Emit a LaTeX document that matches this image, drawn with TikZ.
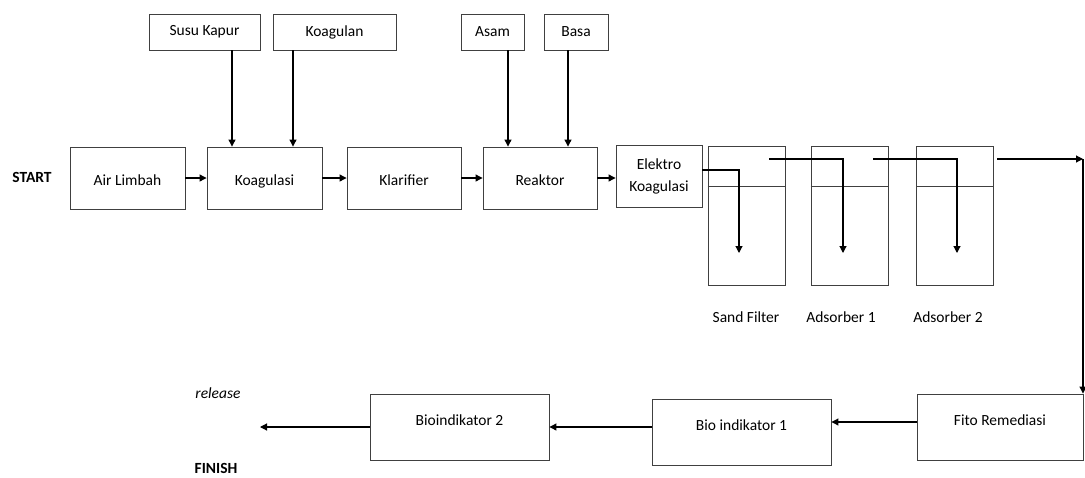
\documentclass[tikz,border=0pt]{standalone}
\usepackage{fontspec}
\setmainfont{Carlito}
\usetikzlibrary{arrows.meta,positioning}

\tikzset{
  box/.style={draw=black!75, line width=0.9pt, inner sep=0pt, align=center},
  midbox/.style={box, text height=17pt, text depth=2pt},
  lowbox/.style={box, text height=11pt, text depth=15pt},
  arr/.style={line width=1.1pt, -{Triangle[length=7pt,width=7pt]}},
  line/.style={line width=1.1pt}
}

\begin{document}
\begin{tikzpicture}[x=1pt, y=-1pt, every node/.style={font=\fontsize{15.5}{22}\selectfont}]
  \useasboundingbox (0,0) rectangle (1085,477);

  % dosing tanks
  \node[box, minimum width=111pt, minimum height=36pt] (susu) at (204.5,32) {Susu Kapur};
  \node[box, minimum width=123pt, minimum height=36pt] (koagulan) at (334.5,32) {Koagulan};
  \node[box, minimum width=63pt, minimum height=36pt] (asam) at (492.5,32) {Asam};
  \node[box, minimum width=64pt, minimum height=36pt] (basa) at (576,32) {Basa};

  % main line
  \node[font=\fontsize{15.5}{18}\bfseries] (start) at (32,177) {START};
  \node[midbox, minimum width=115pt, minimum height=62pt] (air) at (127.5,178) {Air Limbah};
  \node[midbox, minimum width=115pt, minimum height=62pt] (koag) at (264.5,178) {Koagulasi};
  \node[midbox, minimum width=114pt, minimum height=62pt] (klar) at (404,178) {Klarifier};
  \node[midbox, minimum width=114pt, minimum height=62pt] (reak) at (540,178) {Reaktor};
  \node[box, minimum width=86pt, minimum height=62pt] (elek) at (659,176) {Elektro\\Koagulasi};

  % columns
  \node[box, minimum width=77pt, minimum height=139pt] (sand) at (746.5,215.5) {};
  \node[box, minimum width=77pt, minimum height=139pt] (ads1) at (849.5,215.5) {};
  \node[box, minimum width=77pt, minimum height=139pt] (ads2) at (955,215.5) {};
  \foreach \c in {sand,ads1,ads2}
    \draw[draw=black!75, line width=0.9pt] (\c.west |- 0,186) -- (\c.east |- 0,186);
  \node (sandlbl) at (746,317) {Sand Filter};
  \node (ads1lbl) at (841,317) {Adsorber 1};
  \node (ads2lbl) at (948,317) {Adsorber 2};

  % last stages
  \node[lowbox, minimum width=166pt, minimum height=66pt] (fito) at (1000,427) {Fito Remediasi};
  \node[lowbox, minimum width=179pt, minimum height=66pt] (bio1) at (741.5,432) {Bio indikator 1};
  \node[lowbox, minimum width=179pt, minimum height=66pt] (bio2) at (459.5,427) {Bioindikator 2};
  \node[font=\fontsize{15.5}{18}\itshape] (release) at (218,393) {release};
  \node[font=\fontsize{15.5}{18}\bfseries] (finish) at (216,468) {FINISH};

  % flow
  \draw[arr] (air) -- (koag);
  \draw[arr] (koag) -- (klar);
  \draw[arr] (klar) -- (reak);
  \draw[arr] (reak.east) -- (elek.west |- reak.east);
  \draw[arr] (susu.south -| 232,0) -- (koag.north -| 232,0);
  \draw[arr] (koagulan.south -| 293,0) -- (koag.north -| 293,0);
  \draw[arr] (asam.south -| 508,0) -- (reak.north -| 508,0);
  \draw[arr] (basa.south -| 568,0) -- (reak.north -| 568,0);

  \coordinate (e1) at ([yshift=6pt]elek.east);
  \coordinate (sdrop) at (739,253);
  \draw[arr] (e1) -| (sdrop);
  \coordinate (s1) at (769,159);
  \coordinate (a1drop) at (843,253);
  \draw[arr] (s1) -| (a1drop);
  \coordinate (a1) at (873,159);
  \coordinate (a2drop) at (957,253);
  \draw[arr] (a1) -| (a2drop);
  \coordinate (a2) at (997,159);
  \coordinate (corner) at (1083,159);
  \draw[arr] (a2) -- (corner);
  \draw[arr] (corner) -- (fito.north -| corner);

  \coordinate (f1) at ([yshift=5pt]fito.west);
  \draw[arr] (f1) -- (f1 -| bio1.east);
  \coordinate (b1) at ([yshift=5pt]bio1.west);
  \draw[arr] (b1) -- (b1 -| bio2.east);
  \coordinate (out) at (260,427);
  \draw[arr] (bio2.west) -- (out);
\end{tikzpicture}
\end{document}
